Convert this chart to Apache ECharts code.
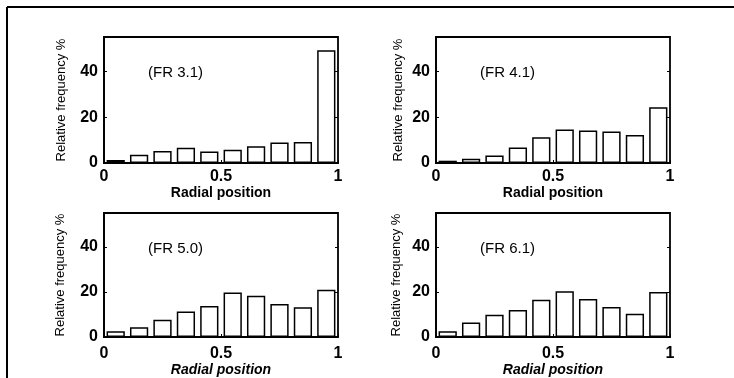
<!DOCTYPE html>
<html>
<head>
<meta charset="utf-8">
<script src="https://cdn.jsdelivr.net/npm/echarts@6/dist/echarts.min.js"></script>
<style>
  html, body { margin: 0; padding: 0; background: #fff; }
  #main { width: 734px; height: 378px; }
</style>
</head>
<body>
<div id="main"></div>
<script>
// bins of radial position (centres)
const bins = ['0.05', '0.15', '0.25', '0.35', '0.45', '0.55', '0.65', '0.75', '0.85', '0.95'];

// relative frequency % per bin
const fr31 = [1.3, 3.6, 5.2, 6.7, 5.0, 5.8, 7.3, 8.9, 9.2, 49.2];
const fr41 = [1.0, 1.9, 3.3, 6.8, 11.2, 14.6, 14.2, 13.8, 12.2, 24.3];
const fr50 = [2.6, 4.3, 7.7, 11.3, 13.8, 19.7, 18.3, 14.6, 13.2, 21.0];
const fr61 = [2.6, 6.4, 9.9, 12.0, 16.5, 20.3, 16.8, 13.3, 10.3, 20.0];

const panelNames = ['(FR 3.1)', '(FR 4.1)', '(FR 5.0)', '(FR 6.1)'];
const xTicks = [0, 0.5, 1];
const yTicks = [0, 20, 40];
const yMax = 55;

const panelData = [fr31, fr41, fr50, fr61];

// layout of the four boxes
const boxes = [
  {left: 104, top: 37, yGap: 36, xGap: 18, lblMargin: 6, italic: false},
  {left: 436, top: 37, yGap: 31, xGap: 18, lblMargin: 6, italic: false},
  {left: 104, top: 213, yGap: 37, xGap: 26, lblMargin: 9, italic: true},
  {left: 436, top: 213, yGap: 33, xGap: 26, lblMargin: 9, italic: true}
];
const boxW = 234, boxH = 126;
const font = 'Liberation Sans, Arial, sans-serif';

const chart = echarts.init(document.getElementById('main'));

let grid = [], xAxis = [], yAxis = [], series = [], graphic = [];

boxes.forEach((b, i) => {
  grid.push({
    left: b.left, top: b.top, width: boxW, height: boxH,
    show: true, borderColor: '#000', borderWidth: 1.8, backgroundColor: 'transparent'
  });
  // category axis that places the bars
  xAxis.push({
    type: 'category', gridIndex: i, data: bins, show: false, boundaryGap: true
  });
  // value axis for the 0 .. 1 labels
  xAxis.push({
    type: 'value', gridIndex: i, min: 0, max: 1, interval: 0.5,
    position: 'bottom',
    name: 'Radial position', nameLocation: 'middle', nameGap: b.xGap,
    nameTextStyle: {color: '#000', fontFamily: font, fontSize: 14, fontWeight: 'bold',
      fontStyle: b.italic ? 'italic' : 'normal', verticalAlign: 'top'},
    axisLine: {show: true, lineStyle: {color: '#000', width: 1.8}},
    axisTick: {show: true, inside: true, length: 3, lineStyle: {color: '#000'}},
    axisLabel: {color: '#000', fontFamily: font, fontSize: 16, fontWeight: 'bold', margin: b.lblMargin,
      formatter: v => xTicks.includes(v) ? String(v) : ''},
    splitLine: {show: false}
  });
  yAxis.push({
    type: 'value', gridIndex: i, min: 0, max: yMax, interval: 20,
    name: 'Relative frequency %', nameLocation: 'middle', nameGap: b.yGap, nameRotate: 90,
    nameTextStyle: {color: '#000', fontFamily: font, fontSize: 13},
    axisLine: {show: true, lineStyle: {color: '#000', width: 1.8}},
    axisTick: {show: true, inside: true, length: 3, lineStyle: {color: '#000'}},
    axisLabel: {color: '#000', fontFamily: font, fontSize: 16, fontWeight: 'bold', margin: 6,
      formatter: v => yTicks.includes(v) ? String(v) : ''},
    splitLine: {show: false}
  });
  yAxis.push({
    type: 'value', gridIndex: i, min: 0, max: yMax, interval: 20, position: 'right',
    axisLine: {show: false},
    axisTick: {show: true, inside: true, length: 3, lineStyle: {color: '#000'}},
    axisLabel: {show: false},
    splitLine: {show: false}
  });
  series.push({
    type: 'bar', xAxisIndex: 2 * i, yAxisIndex: 2 * i,
    data: panelData[i], barWidth: '78%',
    itemStyle: {color: '#fff', borderColor: '#000', borderWidth: 1.5},
    silent: true
  });
  graphic.push({
    type: 'text', left: b.left + 44, top: b.top + 28,
    style: {text: panelNames[i], fill: '#000', font: '15px ' + font}
  });
});

// outer frame (left and top edges only are visible)
graphic.push({type: 'line', shape: {x1: 7, y1: 7, x2: 734, y2: 7}, style: {stroke: '#000', lineWidth: 2}});
graphic.push({type: 'line', shape: {x1: 7, y1: 7, x2: 7, y2: 378}, style: {stroke: '#000', lineWidth: 2}});

chart.setOption({
  animation: false,
  backgroundColor: '#fff',
  grid: grid,
  xAxis: xAxis,
  yAxis: yAxis,
  series: series,
  graphic: graphic
});
</script>
</body>
</html>
